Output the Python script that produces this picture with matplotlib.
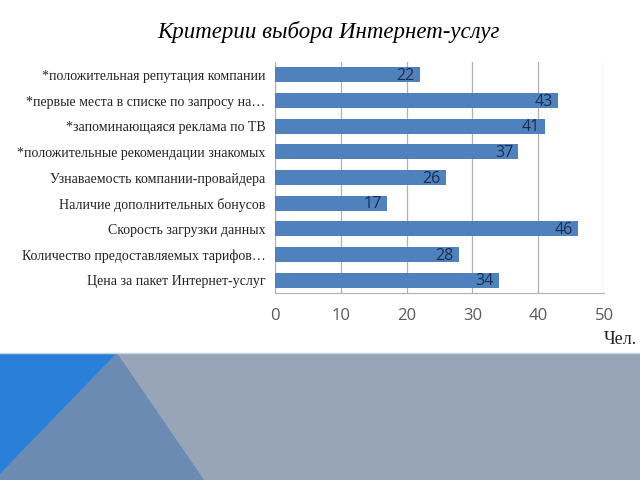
import matplotlib.pyplot as plt
from matplotlib.patches import Polygon

categories = [
    "*положительная репутация компании",
    "*первые места в списке по запросу на…",
    "*запоминающаяся реклама по ТВ",
    "*положительные рекомендации знакомых",
    "Узнаваемость компании-провайдера",
    "Наличие дополнительных бонусов",
    "Скорость загрузки данных",
    "Количество предоставляемых тарифов…",
    "Цена за пакет Интернет-услуг",
]
values = [22, 43, 41, 37, 26, 17, 46, 28, 34]
x_ticks = [0, 10, 20, 30, 40, 50]

fig = plt.figure(figsize=(6.4, 4.8), dpi=100)

# decorative band at the bottom (pixel coordinates)
bg = fig.add_axes([0, 0, 1, 1], zorder=0)
bg.set_xlim(0, 640)
bg.set_ylim(480, 0)
bg.axis("off")
bg.add_patch(Polygon([(0, 353), (640, 353), (640, 480), (0, 480)], color="#98a5b8", lw=0))
bg.add_patch(Polygon([(117, 353), (204, 480), (0, 480), (0, 474)], color="#6c8bb3", lw=0))
bg.add_patch(Polygon([(0, 353), (117, 353), (0, 474)], color="#2a80d8", lw=0))
bg.plot([0, 640], [353, 353], color="#c9d2de", lw=1)

bg.text(328, 32, "Критерии выбора Интернет-услуг", fontsize=16.5, fontstyle="italic",
        family="Liberation Serif", ha="center", va="center", color="black")
bg.text(637, 339, "Чел.", fontsize=13, family="Liberation Serif",
        ha="right", va="center", color="#222222")

ax = fig.add_axes([275 / 640, 187 / 480, 329 / 640, 231 / 480], zorder=1)
y = list(range(len(categories)))
ax.barh(y, values, height=0.58, color="#4f81bd", zorder=3)
for yi, v in zip(y, values):
    ax.text(v - 0.8, yi + 0.05, str(v), ha="right", va="center", fontsize=11.5,
            family="Open Sans", color="#1a2f4f", zorder=4)

ax.set_xlim(0, 50)
ax.set_ylim(len(categories) - 0.5, -0.5)
ax.set_yticks(y)
ax.set_yticklabels(categories, family="Liberation Serif", fontsize=10, color="#222222")
ax.set_xticks(x_ticks)
ax.set_xticklabels([str(t) for t in x_ticks], family="Open Sans", fontsize=12, color="#595959")
ax.tick_params(axis="both", length=0)
ax.tick_params(axis="y", pad=7)
ax.tick_params(axis="x", pad=11)
ax.grid(axis="x", color="#b0b0b0", lw=0.9, zorder=0)
for s in ["top", "right"]:
    ax.spines[s].set_visible(False)
ax.spines["left"].set_color("#b0b0b0")
ax.spines["bottom"].set_color("#b0b0b0")

fig.savefig("out.png", dpi=100)
